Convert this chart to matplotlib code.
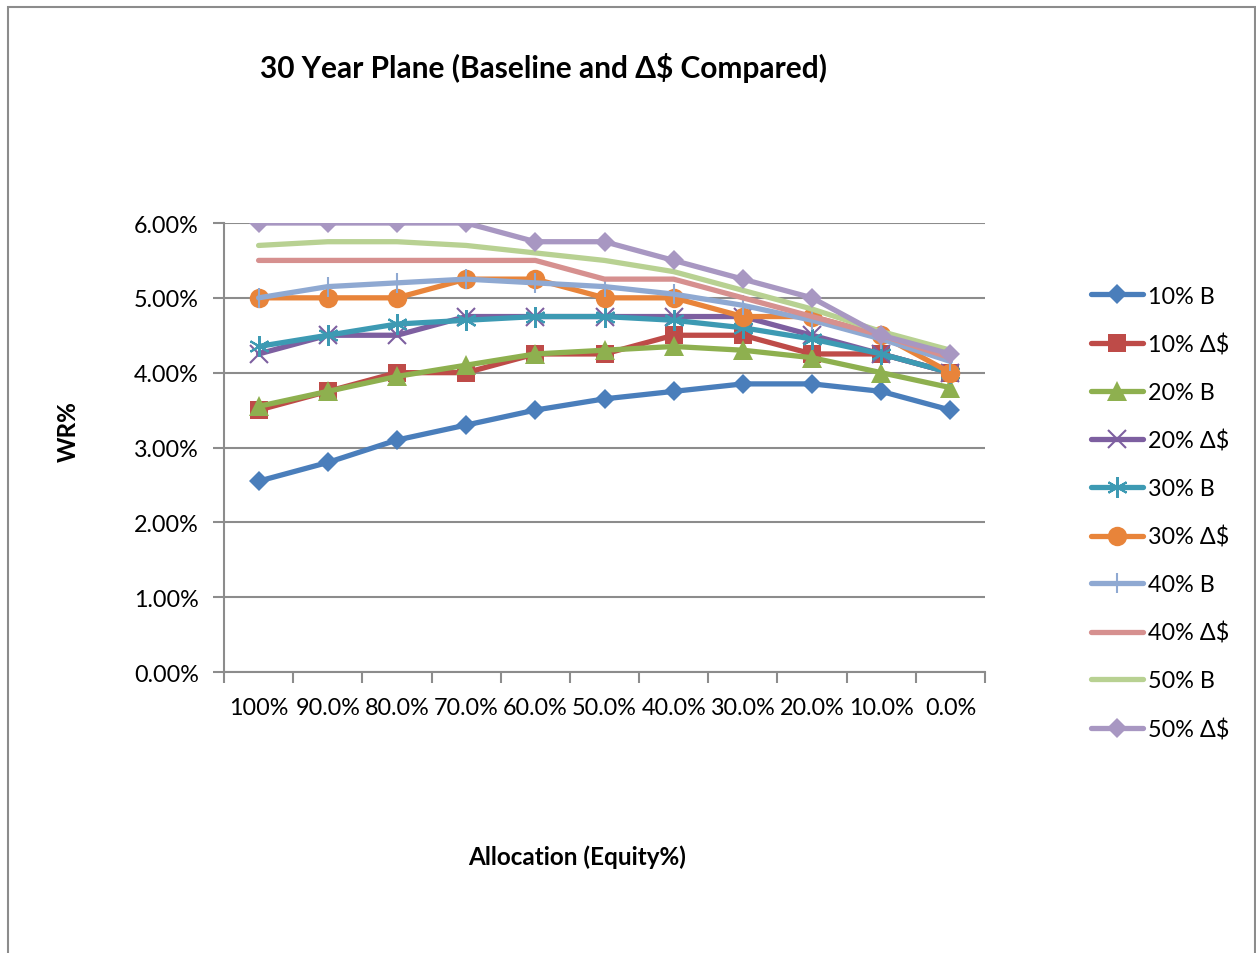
import matplotlib
matplotlib.use("Agg")
import matplotlib.pyplot as plt
from matplotlib.patches import Rectangle
from matplotlib.ticker import FuncFormatter, FixedLocator

plt.rcParams["font.family"] = ["Lato", "DejaVu Sans"]

allocations = ["100%", "90.0%", "80.0%", "70.0%", "60.0%", "50.0%",
               "40.0%", "30.0%", "20.0%", "10.0%", "0.0%"]

# withdrawal rates in percent
b10 = [2.55, 2.80, 3.10, 3.30, 3.50, 3.65, 3.75, 3.85, 3.85, 3.75, 3.50]
d10 = [3.50, 3.75, 4.00, 4.00, 4.25, 4.25, 4.50, 4.50, 4.25, 4.25, 4.00]
b20 = [3.55, 3.75, 3.95, 4.10, 4.25, 4.30, 4.35, 4.30, 4.20, 4.00, 3.80]
d20 = [4.25, 4.50, 4.50, 4.75, 4.75, 4.75, 4.75, 4.75, 4.50, 4.25, 4.00]
b30 = [4.35, 4.50, 4.65, 4.70, 4.75, 4.75, 4.70, 4.60, 4.45, 4.25, 4.00]
d30 = [5.00, 5.00, 5.00, 5.25, 5.25, 5.00, 5.00, 4.75, 4.75, 4.50, 4.00]
b40 = [5.00, 5.15, 5.20, 5.25, 5.20, 5.15, 5.05, 4.90, 4.70, 4.45, 4.15]
d40 = [5.50, 5.50, 5.50, 5.50, 5.50, 5.25, 5.25, 5.00, 4.75, 4.50, 4.20]
b50 = [5.70, 5.75, 5.75, 5.70, 5.60, 5.50, 5.35, 5.10, 4.85, 4.55, 4.30]
d50 = [6.00, 6.00, 6.00, 6.00, 5.75, 5.75, 5.50, 5.25, 5.00, 4.50, 4.25]

series = [
    ("10% B", b10, "#4A7EBB", "D", 10.5),
    ("10% Δ$", d10, "#BE4B48", "s", 13),
    ("20% B", b20, "#8EB04F", "^", 14),
    ("20% Δ$", d20, "#7D5FA0", "x", 13),
    ("30% B", b30, "#3D9AB3", (6, 2, 0), 15),
    ("30% Δ$", d30, "#E8843A", "o", 14),
    ("40% B", b40, "#8FA9D2", "|", 14),
    ("40% Δ$", d40, "#D6908F", None, 0),
    ("50% B", b50, "#B8D192", None, 0),
    ("50% Δ$", d50, "#A897C2", "D", 10.5),
]

label_font = {"weight": "bold", "size": 17.5}
grey = "#8C8C8C"

fig = plt.figure(figsize=(12.56, 9.54), dpi=100)
fig.patches.append(Rectangle((8 / 1256, -0.01), 1247 / 1256, 1 - 8 / 954 + 0.01,
                             transform=fig.transFigure, fill=False,
                             edgecolor=grey, linewidth=1.5))

ax = fig.add_axes([224 / 1256, 1 - 673 / 954, (985 - 224) / 1256, (673 - 224) / 954])
x = list(range(len(allocations)))

for name, vals, color, marker, ms in series:
    if marker is None:
        ax.plot(x, vals, color=color, linewidth=3.8, solid_capstyle="round",
                label=name)
    elif marker in ("x", "|") or isinstance(marker, tuple):
        ax.plot(x, vals, color=color, linewidth=3.8, solid_capstyle="round",
                marker=marker, markersize=ms, markeredgewidth=1.5, label=name)
    else:
        ax.plot(x, vals, color=color, linewidth=3.8, solid_capstyle="round",
                marker=marker, markersize=ms, markeredgewidth=0, label=name)

ax.set_xlim(-0.5, len(allocations) - 0.5)
ax.set_ylim(0, 6)
ax.set_yticks([0, 1, 2, 3, 4, 5, 6])
ax.yaxis.set_major_formatter(FuncFormatter(lambda v, p: f"{v:.2f}%"))
ax.grid(axis="y", color=grey, linewidth=1.5)
ax.set_axisbelow(True)

ax.set_xticks(x)
ax.set_xticklabels(allocations)
ax.xaxis.set_minor_locator(FixedLocator([i - 0.5 for i in range(len(allocations) + 1)]))
ax.tick_params(axis="x", which="major", length=0, pad=18, labelsize=16.8)
ax.tick_params(axis="x", which="minor", length=8, width=1.5, color=grey, direction="out")
ax.tick_params(axis="y", length=8, width=1.5, color=grey, pad=10, labelsize=16.8)

for side in ("top", "right"):
    ax.spines[side].set_visible(False)
for side in ("left", "bottom"):
    ax.spines[side].set_color(grey)
    ax.spines[side].set_linewidth(1.5)

fig.text(543 / 1256, 1 - 68 / 954, "30 Year Plane (Baseline and Δ$ Compared)",
         ha="center", va="center", fontsize=21.5, fontweight="bold")
fig.text(68 / 1256, 1 - 432 / 954, "WR%", rotation=90, ha="center", va="center",
         **label_font)
fig.text(577 / 1256, 1 - 857 / 954, "Allocation (Equity%)", ha="center",
         va="center", **label_font)

fig.legend(loc="upper left", bbox_to_anchor=(1079 / 1256, 1 - 275 / 954),
           frameon=False, fontsize=16.8, handlelength=2.25, labelspacing=1.14,
           handletextpad=0.2, borderpad=0)

plt.savefig("out.png", dpi=100)
